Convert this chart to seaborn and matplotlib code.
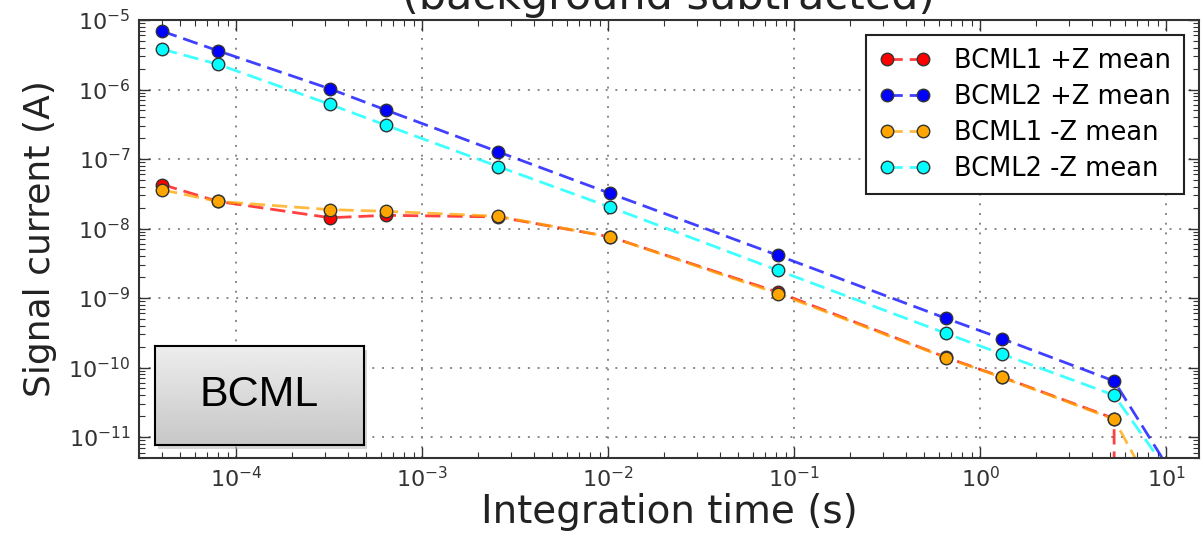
import numpy as np
import pandas as pd
import matplotlib
matplotlib.use("Agg")
import matplotlib.pyplot as plt
import seaborn as sns

# integration times of the running sums (s)
times = [4e-5, 8e-5, 3.2e-4, 6.4e-4, 2.56e-3, 1.024e-2, 8.192e-2, 0.65536, 1.31072, 5.24288, 10.48576]

# mean signal currents (A), background subtracted
bcml1_pz = [4.3e-8, 2.45e-8, 1.43e-8, 1.55e-8, 1.47e-8, 7.6e-9, 1.21e-9, 1.4e-10, 7.3e-11, 1.85e-11, 0.0]
bcml2_pz = [6.9e-6, 3.6e-6, 1.02e-6, 5.05e-7, 1.27e-7, 3.2e-8, 4.1e-9, 5.1e-10, 2.6e-10, 6.4e-11, 3.3e-12]
bcml1_mz = [3.6e-8, 2.45e-8, 1.87e-8, 1.77e-8, 1.5e-8, 7.6e-9, 1.16e-9, 1.38e-10, 7.2e-11, 1.8e-11, 6e-13]
bcml2_mz = [3.8e-6, 2.3e-6, 6.1e-7, 3.05e-7, 7.8e-8, 2.03e-8, 2.5e-9, 3.1e-10, 1.56e-10, 4.0e-11, 2.9e-12]

labels = ["BCML1 +Z mean", "BCML2 +Z mean", "BCML1 -Z mean", "BCML2 -Z mean"]
colors = ["red", "blue", "orange", "cyan"]

df = pd.DataFrame({"time": times * 4,
                   "current": bcml1_pz + bcml2_pz + bcml1_mz + bcml2_mz,
                   "series": np.repeat(labels, len(times))})

plt.rcParams["font.family"] = ["DejaVu Sans"]

fig = plt.figure(figsize=(12.03, 5.36), dpi=100)
ax = fig.add_axes([0.1155, 0.1455, 0.8812, 0.8172])

for lab, col in zip(labels, colors):
    sub = df[df["series"] == lab]
    sns.lineplot(data=sub, x="time", y="current", ax=ax, color=col, label=lab,
                 estimator=None, sort=False, marker="o", markersize=9,
                 markeredgecolor="#333333", markeredgewidth=1.0,
                 linewidth=2.0, linestyle=(0, (5.5, 2.5)), alpha=0.8)

# markers fully opaque, lines slightly faded
for ln in ax.lines:
    ln.set_alpha(None)
    c = matplotlib.colors.to_rgba(ln.get_color())
    ln.set_color((c[0], c[1], c[2], 0.75))
    ln.set_markerfacecolor(c[:3])

ax.set_xscale("log")
ax.set_yscale("log", nonpositive="clip")
ax.set_xlim(3e-5, 15)
ax.set_ylim(5e-12, 1e-5)

ax.grid(True, which="major", color="#888888", linestyle=(0, (1, 4)), linewidth=1.4)
ax.tick_params(which="both", direction="in", top=True, right=True,
               labelsize=16, labelcolor="#333333", color="#333333")
ax.tick_params(which="major", length=8, width=1, pad=6)
ax.tick_params(which="minor", length=4, width=0.8)
for s in ax.spines.values():
    s.set_color("#333333")
    s.set_linewidth(1.5)

ax.set_xlabel("Integration time (s)", fontsize=28, color="#222222", labelpad=1)
ax.set_ylabel("Signal current (A)", fontsize=26, color="#222222", labelpad=8)

leg = ax.legend(loc="upper right", numpoints=2, fontsize=18.5, fancybox=False,
                handlelength=2.0, handletextpad=0.9, labelspacing=0.38,
                borderpad=0.5, borderaxespad=0.6, framealpha=1)
leg.get_frame().set_edgecolor("#222222")
leg.get_frame().set_linewidth(1.5)

# title, cut off at the top of the picture
fig.text(0.556, 1 - 9 / 536, "(background subtracted)", ha="center", va="baseline",
         fontsize=31, color="#222222")

# BCML label box with gradient and shadow
bx, by, bw, bh = 155 / 1203, (536 - 445) / 536, 209 / 1203, 99 / 536
shadow = fig.add_axes([bx + 3 / 1203, by - 4 / 536, bw, bh])
shadow.set_facecolor("#bbbbbb")
shadow.patch.set_alpha(0.6)
shadow.set_xticks([]); shadow.set_yticks([])
for s in shadow.spines.values():
    s.set_visible(False)

box = fig.add_axes([bx, by, bw, bh])
grad = np.linspace(0.93, 0.78, 100).reshape(-1, 1)
box.imshow(grad, aspect="auto", cmap="gray", vmin=0, vmax=1, extent=[0, 1, 0, 1])
box.set_xticks([]); box.set_yticks([])
for s in box.spines.values():
    s.set_color("black")
    s.set_linewidth(1.5)
box.text(0.5, 0.5, "BCML", ha="center", va="center", fontsize=31,
         family=["Liberation Sans"], transform=box.transAxes)

fig.savefig("out.png", dpi=100)
